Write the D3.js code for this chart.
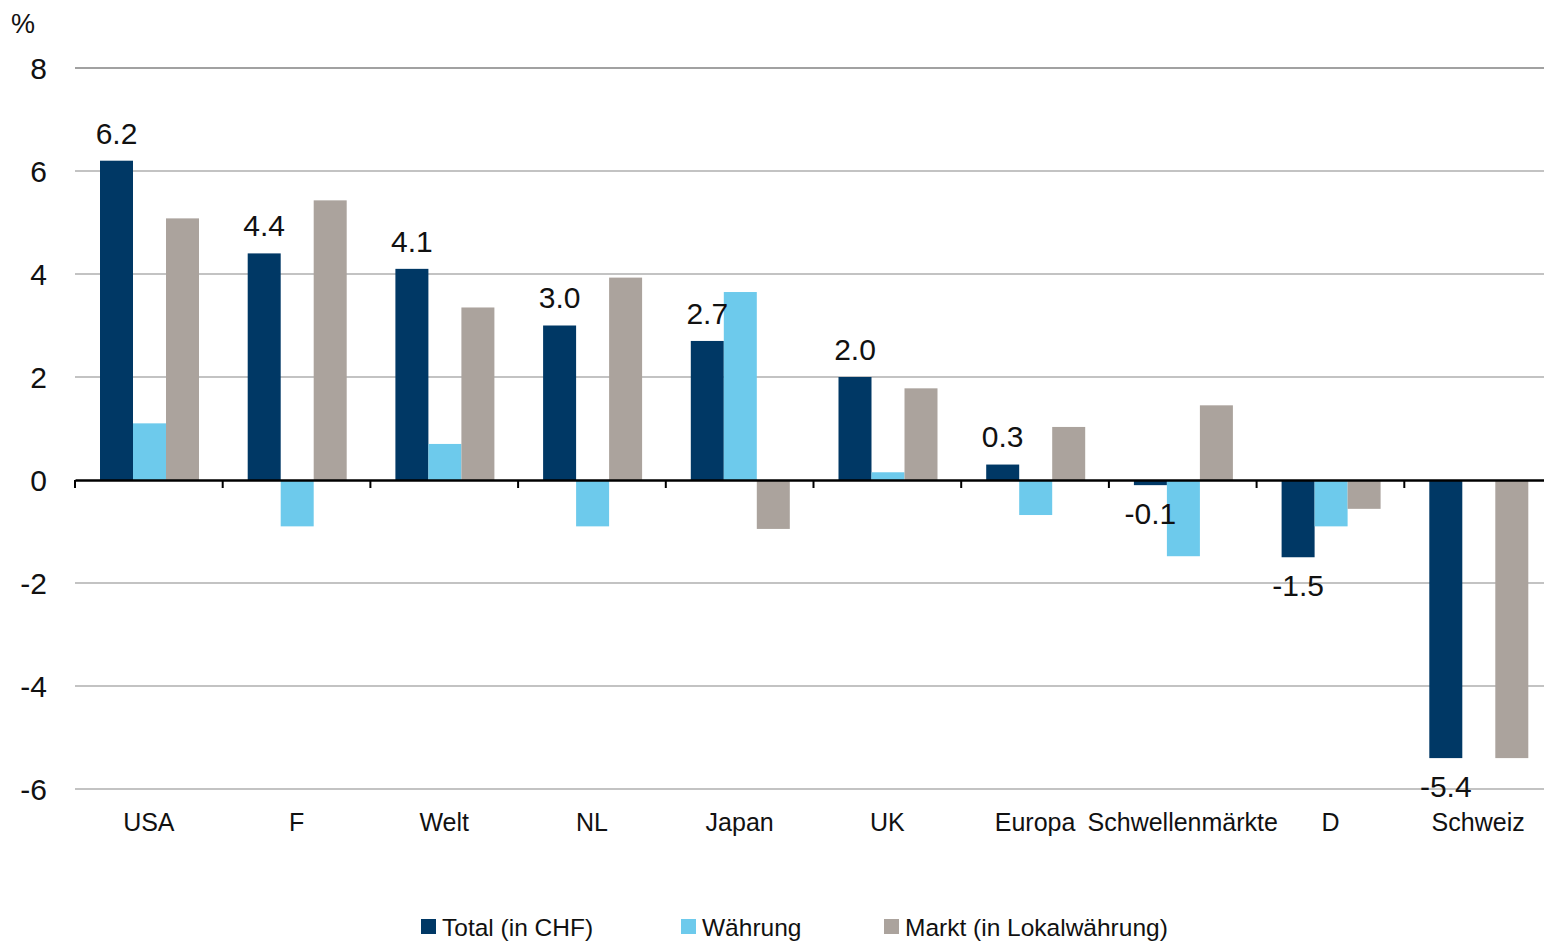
<!DOCTYPE html>
<html>
<head>
<meta charset="utf-8">
<script src="https://cdn.jsdelivr.net/npm/d3@7"></script>
<style>
  body { margin: 0; background: #fff; }
  svg text { font-family: "Liberation Sans", Arial, sans-serif; fill: #111; }
</style>
</head>
<body>
<svg id="chart" width="1544" height="944"></svg>
<script>
const categories = ['USA', 'F', 'Welt', 'NL', 'Japan', 'UK', 'Europa', 'Schwellenmärkte', 'D', 'Schweiz'];
const total = [6.2, 4.4, 4.1, 3.0, 2.7, 2.0, 0.3, -0.1, -1.5, -5.4];
const waehrung = [1.1, -0.9, 0.7, -0.9, 3.65, 0.15, -0.68, -1.48, -0.9, 0];
const markt = [5.08, 5.43, 3.35, 3.93, -0.95, 1.78, 1.03, 1.45, -0.56, -5.4];
const seriesNames = ['Total (in CHF)', 'Währung', 'Markt (in Lokalwährung)'];
const seriesColors = ['#003865', '#6dcaec', '#aba39d'];
const yTicks = [-6, -4, -2, 0, 2, 4, 6, 8];

function drawChart() {
  const svg = d3.select('svg#chart');
  const left = 75, right = 1552, top = 68, bottom = 789;

  const x = d3.scaleBand().domain(categories).range([left, right]).paddingInner(0).paddingOuter(0);
  const y = d3.scaleLinear().domain([-6, 8]).range([bottom, top]);
  const inner = d3.scaleBand().domain(d3.range(3)).range([25, 124]);

  // gridlines
  svg.append('g').selectAll('line').data(yTicks.filter((t) => t !== 0)).enter()
    .append('line')
    .attr('x1', left).attr('x2', 1544)
    .attr('y1', (d) => y(d)).attr('y2', (d) => y(d))
    .attr('stroke', (d) => d === 8 ? '#444' : '#888')
    .attr('stroke-width', 1.2);

  // y labels
  svg.append('g').selectAll('text').data(yTicks).enter()
    .append('text')
    .attr('x', 47).attr('y', (d) => y(d))
    .attr('dy', '0.36em')
    .attr('text-anchor', 'end')
    .style('font-size', '30px')
    .text((d) => d);

  svg.append('text').attr('x', 11).attr('y', 33).style('font-size', '27px').text('%');

  const series = [total, waehrung, markt];
  series.forEach((vals, si) => {
    svg.append('g').selectAll('rect').data(vals).enter()
      .append('rect')
      .attr('x', (d, i) => x(categories[i]) + inner(si))
      .attr('width', inner.bandwidth())
      .attr('y', (d) => y(Math.max(0, d)))
      .attr('height', (d) => Math.abs(y(d) - y(0)))
      .attr('fill', seriesColors[si]);
  });

  // value labels on total
  svg.append('g').selectAll('text').data(total).enter()
    .append('text')
    .attr('x', (d, i) => x(categories[i]) + inner(0) + inner.bandwidth() / 2)
    .attr('y', (d) => d >= 0 ? y(d) - 28 : y(d) + 28)
    .attr('dy', '0.36em')
    .attr('text-anchor', 'middle')
    .style('font-size', '30px')
    .text((d) => d.toFixed(1));

  // zero axis with ticks
  const axis = d3.axisBottom(x).tickSize(0).tickFormat('');
  const gx = svg.append('g').attr('transform', `translate(0,${y(0)})`).call(axis);
  gx.select('.domain').attr('stroke', '#000').attr('stroke-width', 2.5);
  gx.selectAll('.tick').remove();
  svg.append('g').selectAll('line').data(categories).enter()
    .append('line')
    .attr('x1', (d) => x(d)).attr('x2', (d) => x(d))
    .attr('y1', y(0)).attr('y2', y(0) + 8)
    .attr('stroke', '#000').attr('stroke-width', 2);

  // category labels
  svg.append('g').selectAll('text').data(categories).enter()
    .append('text')
    .attr('x', (d) => x(d) + x.bandwidth() / 2)
    .attr('y', 822)
    .attr('dy', '0.36em')
    .attr('text-anchor', 'middle')
    .style('font-size', '25px')
    .text((d) => d);

  // legend
  const legendX = [421, 681, 884];
  const lg = svg.append('g').selectAll('g').data(seriesNames).enter()
    .append('g').attr('transform', (d, i) => `translate(${legendX[i]},919)`);
  lg.append('rect').attr('width', 15).attr('height', 15).attr('fill', (d, i) => seriesColors[i]);
  lg.append('text').attr('x', 21).attr('y', 8).attr('dy', '0.36em')
    .style('font-size', '24.5px').text((d) => d);
}

window.addEventListener('load', drawChart);
</script>
</body>
</html>
